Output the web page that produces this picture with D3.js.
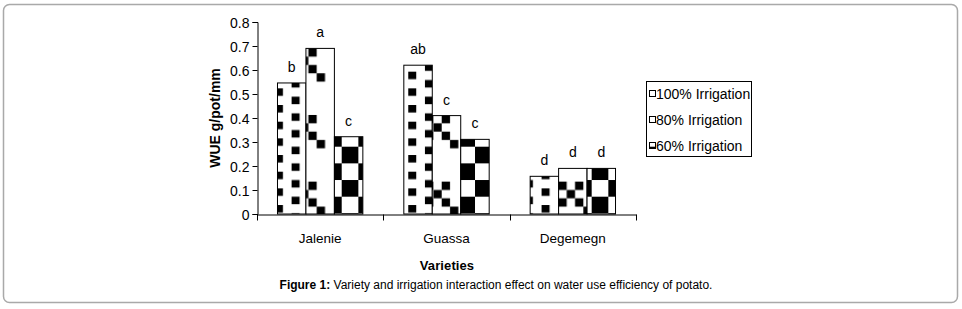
<!DOCTYPE html>
<html>
<head>
<meta charset="utf-8">
<script src="https://cdn.jsdelivr.net/npm/d3@7"></script>
<style>
  body { margin: 0; background: #fff; }
  svg text { font-family: "Liberation Sans", Arial, sans-serif; fill: #000; }
</style>
</head>
<body>
<svg id="chart" width="962" height="309"></svg>
<script>
// values
const varieties = ['Jalenie', 'Guassa', 'Degemegn'];
const series = ['100% Irrigation', '80% Irrigation', '60% Irrigation'];
const wue100 = [0.546, 0.62, 0.157];
const wue80 = [0.69, 0.41, 0.19];
const wue60 = [0.322, 0.311, 0.19];
const letters100 = ['b', 'ab', 'd'];
const letters80 = ['a', 'c', 'd'];
const letters60 = ['c', 'c', 'd'];
const yTicks = [0, 0.1, 0.2, 0.3, 0.4, 0.5, 0.6, 0.7, 0.8];

const values = [wue100, wue80, wue60];
const letters = [letters100, letters80, letters60];

const data = [];
varieties.forEach(function(v, i) {
  series.forEach(function(s, j) {
    data.push({ variety: v, series: s, idx: j, value: values[j][i], letter: letters[j][i] });
  });
});

const svg = d3.select('#chart');

// outer frame of the figure
svg.append('rect')
  .attr('x', 3.5).attr('y', 4.5)
  .attr('width', 954).attr('height', 298)
  .attr('rx', 6)
  .attr('fill', 'none')
  .attr('stroke', '#a9a9a9')
  .attr('stroke-width', 1.5);

// fill patterns (anchored to the page like the old Excel fills)
const defs = svg.append('defs');

let p100 = defs.append('pattern')
  .attr('id', 'p100')
  .attr('patternUnits', 'userSpaceOnUse')
  .attr('x', 8.3).attr('y', 5)
  .attr('width', 33.33).attr('height', 16.67);
p100.append('rect').attr('width', 33.33).attr('height', 16.67).attr('fill', '#fff');
p100.append('rect').attr('x', 0).attr('y', 0).attr('width', 8).attr('height', 7.5).attr('fill', '#000');
p100.append('rect').attr('x', 16.67).attr('y', 8.33).attr('width', 8).attr('height', 7.5).attr('fill', '#000');

let p80 = defs.append('pattern')
  .attr('id', 'p80')
  .attr('patternUnits', 'userSpaceOnUse')
  .attr('x', 291.7).attr('y', 48.3)
  .attr('width', 66.67).attr('height', 66.67);
p80.append('rect').attr('width', 66.67).attr('height', 66.67).attr('fill', '#fff');
[[0, 0], [2, 0], [1, 1], [0, 2], [2, 2], [3, 3]].forEach(function(c) {
  p80.append('rect')
    .attr('x', c[0] * 8.33).attr('y', c[1] * 8.33)
    .attr('width', 8.33).attr('height', 8.33)
    .attr('fill', '#000');
});

let p60 = defs.append('pattern')
  .attr('id', 'p60')
  .attr('patternUnits', 'userSpaceOnUse')
  .attr('x', 341.7).attr('y', 146.7)
  .attr('width', 33.33).attr('height', 33.33);
p60.append('rect').attr('width', 33.33).attr('height', 33.33).attr('fill', '#fff');
p60.append('rect').attr('x', 0).attr('y', 0).attr('width', 16.67).attr('height', 16.67).attr('fill', '#000');
p60.append('rect').attr('x', 16.67).attr('y', 16.67).attr('width', 16.67).attr('height', 16.67).attr('fill', '#000');

const fills = ['url(#p100)', 'url(#p80)', 'url(#p60)'];
// the tiny legend keys only catch the pattern of the 60% fill
const keyFills = ['#fff', '#fff', 'url(#p60)'];

// scales
let x = d3.scaleBand()
  .domain(varieties)
  .range([257, 636])
  .padding(0);

let xs = d3.scaleBand()
  .domain(series)
  .range([0, x.bandwidth()])
  .paddingInner(0)
  .paddingOuter(0.72);

let y = d3.scaleLinear()
  .domain([0, 0.8])
  .range([214, 22]);

// y axis
let y_axis = d3.axisLeft(y)
  .tickValues(yTicks)
  .tickFormat(d3.format('.1f'))
  .tickSize(5)
  .tickPadding(3);

svg.append('g')
  .attr('class', 'y axis')
  .attr('transform', 'translate(257.5,0)')
  .call(y_axis)
  .call(function(g) {
    g.select('.domain').attr('stroke', '#000');
    g.selectAll('.tick line').attr('stroke', '#000');
    g.selectAll('.tick text')
      .attr('font-size', 14)
      .attr('dy', '0.36em')
      .style('font-family', '"Liberation Sans", Arial, sans-serif');
    g.selectAll('.tick').filter(function(d) { return d === 0; }).select('text').text('0');
  });

// bars
svg.selectAll('.bar')
  .data(data)
  .enter().append('rect')
  .attr('class', 'bar')
  .attr('x', function(d) { return x(d.variety) + xs(d.series); })
  .attr('y', function(d) { return y(d.value); })
  .attr('width', xs.bandwidth())
  .attr('height', function(d) { return y(0) - y(d.value); })
  .attr('fill', function(d) { return fills[d.idx]; })
  .attr('stroke', '#000')
  .attr('stroke-width', 1);

// significance letters
svg.selectAll('.letter')
  .data(data)
  .enter().append('text')
  .attr('class', 'letter')
  .attr('x', function(d) { return x(d.variety) + xs(d.series) + xs.bandwidth() / 2; })
  .attr('y', function(d) { return y(d.value) - 11; })
  .attr('text-anchor', 'middle')
  .attr('font-size', 14)
  .text(function(d) { return d.letter; });

// x axis
let x_axis = d3.axisBottom(x)
  .tickSize(0)
  .tickFormat('');

let xg = svg.append('g')
  .attr('class', 'x axis')
  .attr('transform', 'translate(0,214.5)')
  .call(x_axis);
xg.select('.domain').attr('stroke', '#000');
xg.selectAll('.sep')
  .data(x.domain().map(function(d) { return x(d); }).concat([x.range()[1]]))
  .enter().append('line')
  .attr('class', 'sep')
  .attr('x1', function(d) { return Math.round(d) + 0.5; })
  .attr('x2', function(d) { return Math.round(d) + 0.5; })
  .attr('y1', 0).attr('y2', 6)
  .attr('stroke', '#000');

svg.selectAll('.xlabel')
  .data(varieties)
  .enter().append('text')
  .attr('class', 'xlabel')
  .attr('x', function(d) { return x(d) + x.bandwidth() / 2; })
  .attr('y', 243)
  .attr('text-anchor', 'middle')
  .attr('font-size', 13.5)
  .text(function(d) { return d; });

// axis titles
svg.append('text')
  .attr('x', 447).attr('y', 270)
  .attr('text-anchor', 'middle')
  .attr('font-size', 13)
  .attr('font-weight', 'bold')
  .attr('letter-spacing', 0.1)
  .text('Varieties');

svg.append('text')
  .attr('transform', 'translate(220,118) rotate(-90)')
  .attr('text-anchor', 'middle')
  .attr('font-size', 14)
  .attr('font-weight', 'bold')
  .text('WUE g/pot/mm');

// legend
let legend = svg.append('g').attr('class', 'legend');
legend.append('rect')
  .attr('x', 646.5).attr('y', 81.5)
  .attr('width', 105).attr('height', 75)
  .attr('fill', '#fff')
  .attr('stroke', '#000');

let legendY = d3.scalePoint()
  .domain(series)
  .range([94, 146]);

series.forEach(function(s, j) {
  legend.append('rect')
    .attr('x', 649.5).attr('y', legendY(s) - 3.5)
    .attr('width', 6).attr('height', 6)
    .attr('fill', keyFills[j])
    .attr('stroke', '#000');
  legend.append('text')
    .attr('x', 656).attr('y', legendY(s) + 5)
    .attr('font-size', 14)
    .text(s);
});

// figure caption
let cap = svg.append('text')
  .attr('x', 496).attr('y', 289)
  .attr('text-anchor', 'middle')
  .attr('font-size', 12);
cap.append('tspan').attr('font-weight', 'bold').text('Figure 1:');
cap.append('tspan').text(' Variety and irrigation interaction effect on water use efficiency of potato.');
</script>
</body>
</html>
